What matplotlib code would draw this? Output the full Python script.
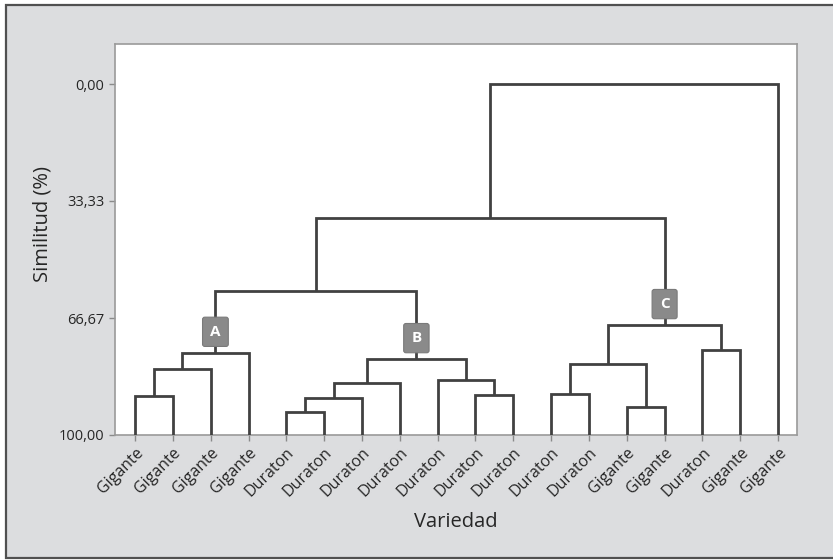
import matplotlib
matplotlib.use("Agg")
import matplotlib.pyplot as plt
import matplotlib.patches as mpatches

plt.rcParams['font.family'] = ['Open Sans', 'DejaVu Sans']

# leaf labels, left to right
leaf_labels = ["Gigante", "Gigante", "Gigante", "Gigante",
               "Duraton", "Duraton", "Duraton", "Duraton", "Duraton",
               "Duraton", "Duraton", "Duraton", "Duraton",
               "Gigante", "Gigante", "Duraton", "Gigante", "Gigante"]

# merges: node ids 0..17 are leaves, each merge creates id 18, 19, ...
merge_left = [0, 18, 19, 4, 21, 22, 9, 8, 23, 20, 11, 13, 28, 15, 30, 27, 33]
merge_right = [1, 2, 3, 5, 6, 7, 10, 24, 25, 26, 12, 14, 29, 16, 31, 32, 17]
merge_sim = [88.9, 81.2, 76.5, 93.5, 89.4, 85.3, 88.6, 84.3, 78.3, 59.0,
             88.2, 92.1, 79.9, 75.8, 68.6, 38.2, 0.0]

# cluster tags: node id -> letter
cluster_nodes = [20, 26, 32]
cluster_names = ["A", "B", "C"]

ytick_vals = [0, 33.33, 66.67, 100]
ytick_text = ["0,00", "33,33", "66,67", "100,00"]

line_col = "#414141"
text_col = "#262626"

fig = plt.figure(figsize=(8.33, 5.60), dpi=100)
fig.patch.set_facecolor("white")
fig.patches.append(mpatches.Rectangle((6 / 833, 2 / 560), 1.0, 553 / 560,
                                      transform=fig.transFigure,
                                      facecolor="#dcdddf", edgecolor="#505050",
                                      linewidth=1.6, zorder=-10))

ax = fig.add_axes([115 / 833, 1 - 435 / 560, 682 / 833, 391 / 560])
ax.set_facecolor("white")

n = len(leaf_labels)
xs = {i: i + 1 for i in range(n)}
ys = {i: 100.0 for i in range(n)}
for k, (a, b, s) in enumerate(zip(merge_left, merge_right, merge_sim)):
    node = n + k
    ax.plot([xs[a], xs[a], xs[b], xs[b]], [ys[a], s, s, ys[b]],
            color=line_col, linewidth=2.0, solid_joinstyle="miter",
            solid_capstyle="butt", zorder=3)
    xs[node] = (xs[a] + xs[b]) / 2
    ys[node] = s

for node, name in zip(cluster_nodes, cluster_names):
    ax.text(xs[node], ys[node] - 5.9, name, ha="center", va="center",
            color="white", fontsize=11, fontweight="bold", zorder=5,
            bbox=dict(boxstyle="round,pad=0.5,rounding_size=0.15",
                      facecolor="#8a8a8a", edgecolor="#7a7a7a", linewidth=0.8))

ax.set_xlim(0.47, n + 0.5)
ax.set_ylim(100, -11.4)

ax.set_yticks(ytick_vals)
ax.set_yticklabels(ytick_text)
ax.set_xticks(range(1, n + 1))
ax.set_xticklabels(leaf_labels, rotation=45, ha="right", rotation_mode="anchor")

ax.tick_params(axis="both", colors="#8a8a8a", length=4, width=1,
               labelcolor=text_col)
ax.tick_params(axis="y", labelsize=10.5)
ax.tick_params(axis="x", labelsize=11.5, pad=3)
for sp in ax.spines.values():
    sp.set_color("#9a9a9a")
    sp.set_linewidth(1.2)

ax.set_ylabel("Similitud (%)", fontsize=14.5, color=text_col)
ax.yaxis.set_label_coords(-0.107, 0.54)
ax.set_xlabel("Variedad", fontsize=14.5, color=text_col)
ax.xaxis.set_label_coords(0.5, -0.2225)
ax.xaxis.label.set_va("center")
ax.yaxis.label.set_va("center")

fig.savefig("out.png", dpi=100, facecolor=fig.get_facecolor())
